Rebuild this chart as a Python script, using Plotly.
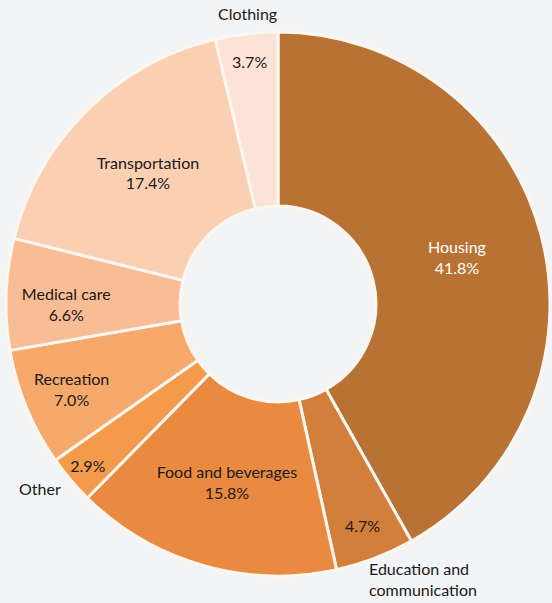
import plotly.graph_objects as go

categories = ["Housing", "Education and communication", "Food and beverages", "Other",
              "Recreation", "Medical care", "Transportation", "Clothing"]
values = [41.8, 4.7, 15.8, 2.9, 7.0, 6.6, 17.4, 3.7]
colors = ["#b87334", "#d27f3b", "#e98a40", "#f49a4b", "#f6a96a", "#f8bd94", "#fbd0b2", "#fde3d7"]
inside_name = [True, False, True, False, True, True, True, False]
text_colors = ["#ffffff"] + ["#1a1a1a"] * 7

texts = [(f"{c}<br>{v:.1f}%" if show else f"{v:.1f}%")
         for c, v, show in zip(categories, values, inside_name)]

FONT = "Lato, Open Sans, sans-serif"
SIZE = 16

fig = go.Figure(go.Pie(
    labels=categories,
    values=values,
    text=texts,
    textinfo="text",
    textposition="inside",
    insidetextorientation="horizontal",
    textfont=dict(family=FONT, size=SIZE, color=text_colors),
    marker=dict(colors=colors, line=dict(color="#fbf6f0", width=3)),
    hole=0.36,
    sort=False,
    direction="clockwise",
    rotation=0,
    domain=dict(x=[6 / 552, 550 / 552], y=[27 / 603, 571 / 603]),
    showlegend=False,
))

font = dict(family=FONT, size=SIZE, color="#1a1a1a")
fig.add_annotation(text="Clothing", x=247 / 552, y=1 - 13 / 603, xref="paper", yref="paper",
                   xanchor="center", yanchor="middle", showarrow=False, font=font)
fig.add_annotation(text="Other", x=40 / 552, y=1 - 488 / 603, xref="paper", yref="paper",
                   xanchor="center", yanchor="middle", showarrow=False, font=font)
fig.add_annotation(text="Education and<br>communication", x=367 / 552, y=2 / 603,
                   xref="paper", yref="paper", xanchor="left", yanchor="bottom", align="left",
                   showarrow=False, font=font)

fig.update_layout(
    width=552, height=603,
    margin=dict(l=0, r=0, t=0, b=0),
    paper_bgcolor="#f2f4f6",
    plot_bgcolor="#f2f4f6",
    uniformtext=dict(minsize=SIZE, mode="show"),
)

fig.write_html("out.html")
